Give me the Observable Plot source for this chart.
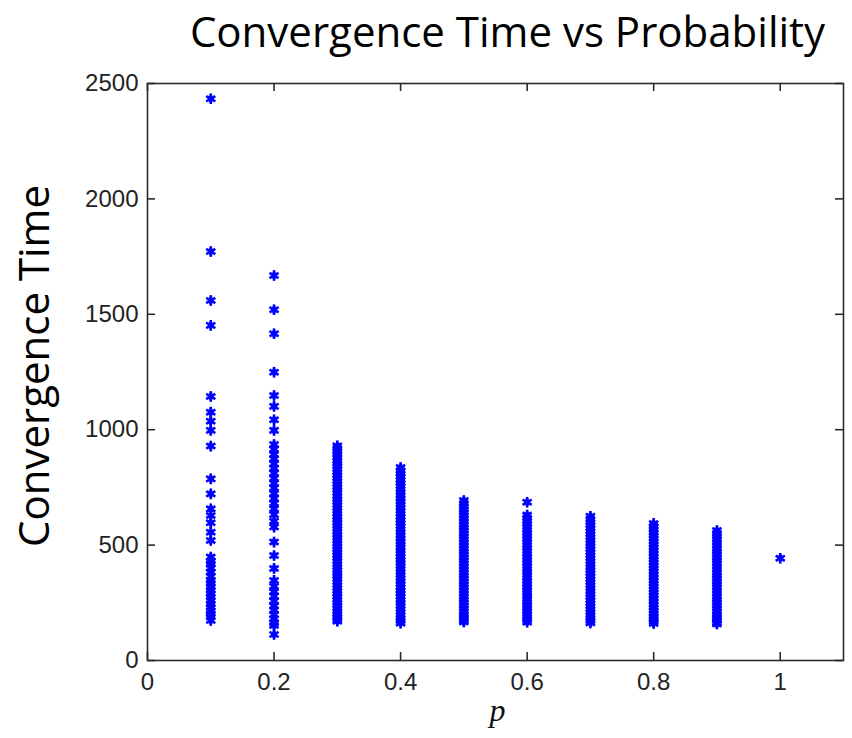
<!DOCTYPE html>
<html>
<head>
<meta charset="utf-8">
<script src="https://cdn.jsdelivr.net/npm/d3@7"></script>
<script src="https://cdn.jsdelivr.net/npm/@observablehq/plot@0.6"></script>
<style>
  html, body { margin: 0; padding: 0; background: #fff; }
  #chart { width: 852px; height: 738px; }
</style>
</head>
<body>
<div id="chart"></div>
<script>
// Probabilities (x) and the convergence times observed at each (y)
const probabilities = [0.1, 0.2, 0.3, 0.4, 0.5, 0.6, 0.7, 0.8, 0.9, 1.0];
const timesP01 = [2434, 1772, 1560, 1452, 1144, 1076, 1037, 997, 929, 787, 722, 657, 628, 597, 556, 520, 448, 430, 419, 400, 383, 365, 347, 335, 318, 305, 289, 275, 260, 245, 231, 215, 202, 190, 173];
const timesP02 = [1668, 1520, 1416, 1249, 1148, 1101, 1043, 997, 936, 915, 893, 874, 852, 833, 811, 790, 768, 747, 724, 702, 681, 657, 632, 603, 578, 513, 455, 399, 347, 322, 298, 279, 258, 236, 219, 198, 181, 163, 152, 113];
const timesP03 = [930, 918, 905, 893, 880, 866, 854, 842, 829, 815, 803, 790, 777, 764, 751, 739, 726, 712, 699, 687, 674, 661, 648, 636, 622, 610, 597, 584, 571, 558, 545, 533, 520, 507, 494, 481, 468, 455, 443, 430, 417, 404, 391, 378, 366, 353, 340, 327, 314, 301, 289, 276, 263, 250, 238, 225, 212, 200, 188, 178, 170];
const timesP04 = [836, 822, 809, 796, 782, 769, 756, 742, 729, 716, 702, 689, 676, 662, 649, 636, 622, 609, 596, 583, 569, 556, 543, 529, 516, 503, 489, 476, 463, 449, 436, 423, 410, 396, 383, 370, 356, 343, 330, 316, 303, 290, 277, 263, 250, 237, 223, 210, 197, 184, 172, 162];
const timesP05 = [693, 680, 667, 654, 641, 628, 615, 602, 589, 576, 563, 550, 537, 524, 511, 498, 485, 472, 459, 446, 433, 420, 407, 394, 381, 368, 355, 342, 329, 316, 303, 290, 277, 264, 251, 238, 225, 212, 199, 187, 176, 167];
const timesP06 = [686, 630, 617, 604, 591, 578, 565, 552, 539, 526, 513, 500, 487, 474, 461, 448, 435, 422, 409, 396, 383, 370, 357, 344, 331, 318, 305, 292, 279, 266, 253, 240, 227, 214, 201, 189, 177, 166];
const timesP07 = [625, 612, 599, 586, 573, 560, 547, 534, 521, 508, 495, 482, 469, 456, 443, 430, 417, 404, 391, 378, 365, 352, 339, 326, 313, 300, 287, 274, 261, 248, 235, 222, 209, 196, 184, 172, 163];
const timesP08 = [594, 581, 568, 555, 542, 529, 516, 503, 490, 477, 464, 451, 438, 425, 412, 399, 386, 373, 360, 347, 334, 321, 308, 295, 282, 269, 256, 243, 230, 217, 204, 192, 180, 169, 160];
const timesP09 = [563, 550, 537, 524, 511, 498, 485, 472, 459, 446, 433, 420, 407, 394, 381, 368, 355, 342, 329, 316, 303, 290, 277, 264, 251, 238, 225, 212, 199, 187, 175, 165, 158];
const timesP10 = [443];

const xTicks = [0, 0.2, 0.4, 0.6, 0.8, 1];
const xTickLabels = ["0", "0.2", "0.4", "0.6", "0.8", "1"];
const yTicks = [0, 500, 1000, 1500, 2000, 2500];
const yTickLabels = ["0", "500", "1000", "1500", "2000", "2500"];

const titleText = "Convergence Time vs Probability";
const yLabelText = "Convergence Time";
const xLabelText = "p";

const timeSeries = [timesP01, timesP02, timesP03, timesP04, timesP05, timesP06, timesP07, timesP08, timesP09, timesP10];
const points = timeSeries.flatMap((arr, i) => arr.map(t => ({p: probabilities[i], time: t})));

const W = 852, H = 738;
const mL = 147, mR = 9, mT = 83, mB = 78;
const plotW = W - mL - mR, plotH = H - mT - mB;
const tickLen = 8;
const axisColor = "#2a2a2a";

const chart = Plot.plot({
  width: W,
  height: H,
  marginLeft: mL,
  marginRight: mR,
  marginTop: mT,
  marginBottom: mB,
  style: {background: "#fff", fontFamily: "'Liberation Sans', Arial, sans-serif", overflow: "visible"},
  x: {domain: [0, 1.1], ticks: xTicks},
  y: {domain: [0, 2500], ticks: yTicks},
  marks: [
    Plot.frame({stroke: axisColor, strokeWidth: 1.6}),
    // inward ticks on all four sides
    Plot.tickX(xTicks, {x: d => d, insetTop: plotH - tickLen, stroke: axisColor, strokeWidth: 1.6}),
    Plot.tickX(xTicks, {x: d => d, insetBottom: plotH - tickLen, stroke: axisColor, strokeWidth: 1.6}),
    Plot.tickY(yTicks, {y: d => d, insetRight: plotW - tickLen, stroke: axisColor, strokeWidth: 1.6}),
    Plot.tickY(yTicks, {y: d => d, insetLeft: plotW - tickLen, stroke: axisColor, strokeWidth: 1.6}),
    Plot.axisX({anchor: "bottom", ticks: xTicks, tickSize: 0, tickPadding: 12, fontSize: 24, label: null, fill: "#222",
      tickFormat: d => xTickLabels[xTicks.indexOf(d)]}),
    Plot.axisY({anchor: "left", ticks: yTicks, tickSize: 0, tickPadding: 9, fontSize: 24, label: null, fill: "#222",
      tickFormat: d => yTickLabels[yTicks.indexOf(d)]}),
    Plot.dot(points, {x: "p", y: "time", symbol: "asterisk", r: 5, stroke: "#0000ff", strokeWidth: 2.6}),
    Plot.dot(points, {x: "p", y: "time", symbol: "diamond", r: 3.4, fill: "#0000ff"}),
    Plot.text([titleText], {frameAnchor: "top", text: d => d, dy: -50, dx: 12, fontSize: 42, lineAnchor: "middle",
      textAnchor: "middle", fontFamily: "'Open Sans', sans-serif", fill: "#000"}),
    Plot.text([yLabelText], {frameAnchor: "left", text: d => d, rotate: -90, dx: -112, dy: -6, fontSize: 42,
      textAnchor: "middle", lineAnchor: "middle", fontFamily: "'Open Sans', sans-serif", fill: "#000"}),
    Plot.text([xLabelText], {frameAnchor: "bottom", text: d => d, dy: 60, dx: 2, fontSize: 32,
      fontFamily: "'Liberation Serif', 'Times New Roman', serif", fontStyle: "italic", fill: "#111"})
  ]
});
document.getElementById("chart").appendChild(chart);
</script>
</body>
</html>
